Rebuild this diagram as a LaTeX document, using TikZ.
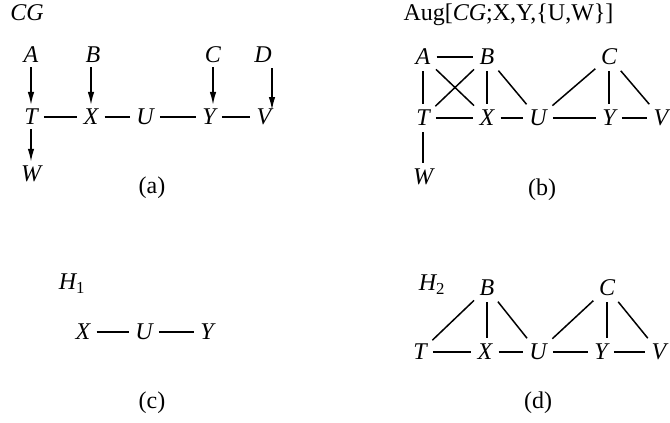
\documentclass[tikz,border=0pt]{standalone}
\usepackage{fontspec}
\setmainfont{Liberation Serif}
\usetikzlibrary{arrows.meta}
\begin{document}
\begin{tikzpicture}[x=1pt,y=-1pt,
  v/.style={font=\fontsize{24}{28}\selectfont\itshape, inner sep=4pt},
  lbl/.style={font=\fontsize{24}{28}\selectfont},
  e/.style={line width=1.5pt, shorten <=2pt, shorten >=2pt},
  arr/.style={line width=1.5pt, -{Latex[length=13pt,width=6.5pt]}}]
\useasboundingbox (0,0) rectangle (670,423);
% (a)
\node[v] (cg) at (27,13) {CG};
\node[v] (aA) at (31,55) {A};
\node[v] (aB) at (93,55) {B};
\node[v] (aC) at (213,55) {C};
\node[v] (aD) at (263,55) {D};
\node[v] (aT) at (31,117) {T};
\node[v] (aX) at (91,117) {X};
\node[v] (aU) at (145,117) {U};
\node[v] (aY) at (209,117) {Y};
\node[v] (aV) at (264,117) {V};
\node[v] (aW) at (31,174) {W};
\node[lbl] (la) at (152,188) {(a)};
\coordinate (aDs) at (272,68);
\coordinate (aDe) at (272,110);
\draw[arr] (aA) -- (aT);
\draw[arr] (aB.south -| aX) -- (aX);
\draw[arr] (aC) -- (aY.north -| aC);
\draw[arr] (aDs) -- (aDe);
\draw[arr] (aT) -- (aW);
\draw[e] (aT) -- (aX);
\draw[e] (aX) -- (aU);
\draw[e] (aU) -- (aY);
\draw[e] (aY) -- (aV);
% (b)
\node[lbl, anchor=west] (aug) at (400,15) {Aug[\textit{CG};X,Y,\{U,W\}]};
\node[v] (bA) at (423,57) {A};
\node[v] (bB) at (487,57) {B};
\node[v] (bC) at (609,57) {C};
\node[v] (bT) at (423,118) {T};
\node[v] (bX) at (487,118) {X};
\node[v] (bU) at (538,118) {U};
\node[v] (bY) at (609,118) {Y};
\node[v] (bV) at (661,118) {V};
\node[v] (bW) at (423,177) {W};
\node[lbl] (lb) at (542,190) {(b)};
\draw[e] (bA) -- (bB);
\draw[e] (bA) -- (bT);
\draw[e] (bA) -- (bX);
\draw[e] (bB) -- (bT);
\draw[e] (bB) -- (bX);
\draw[e] (bB) -- (bU);
\draw[e] (bU) -- (bC);
\draw[e] (bC) -- (bY);
\draw[e] (bC) -- (bV);
\draw[e] (bT) -- (bX);
\draw[e] (bX) -- (bU);
\draw[e] (bU) -- (bY);
\draw[e] (bY) -- (bV);
\draw[e] (bT) -- (bW);
% (c)
\node[v] (h1) at (72,284) {H\textsubscript{\upshape 1}};
\node[v] (cX) at (83,332) {X};
\node[v] (cU) at (144,332) {U};
\node[v] (cY) at (207,332) {Y};
\node[lbl] (lc) at (152,403) {(c)};
\draw[e] (cX) -- (cU);
\draw[e] (cU) -- (cY);
% (d)
\node[v] (h2) at (432,285) {H\textsubscript{\upshape 2}};
\node[v] (dB) at (487,288) {B};
\node[v] (dC) at (607,288) {C};
\node[v] (dT) at (420,352) {T};
\node[v] (dX) at (485,352) {X};
\node[v] (dU) at (538,352) {U};
\node[v] (dY) at (601,352) {Y};
\node[v] (dV) at (659,352) {V};
\node[lbl] (ld) at (538,403) {(d)};
\draw[e] (dT) -- (dB);
\draw[e] (dB) -- (dX.north -| dB);
\draw[e] (dB) -- (dU);
\draw[e] (dU) -- (dC);
\draw[e] (dC) -- (dY.north -| dC);
\draw[e] (dC) -- (dV);
\draw[e] (dT) -- (dX);
\draw[e] (dX) -- (dU);
\draw[e] (dU) -- (dY);
\draw[e] (dY) -- (dV);
\end{tikzpicture}
\end{document}
